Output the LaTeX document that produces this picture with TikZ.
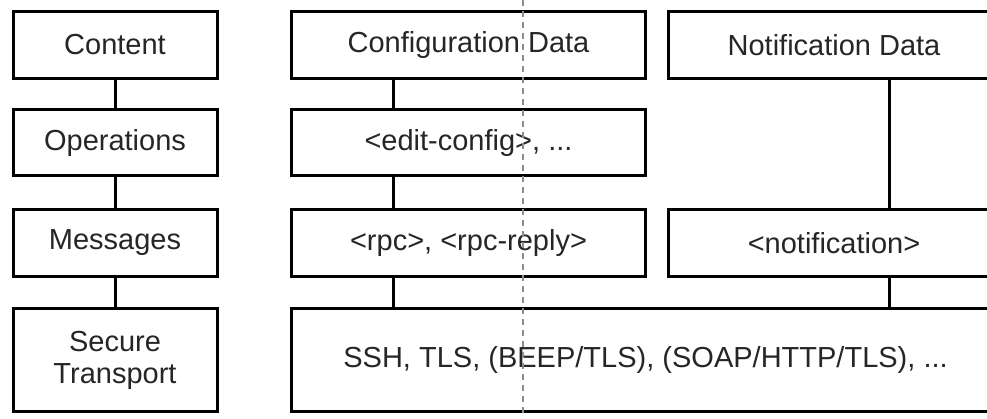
\documentclass[tikz,border=0pt]{standalone}
\usepackage{fontspec}
\setmainfont{Liberation Sans}
\begin{document}
\begin{tikzpicture}[x=1pt,y=-1pt,
  box/.style={draw=black, line width=3pt, fill=white, rectangle, inner sep=0pt,
    font=\fontsize{29}{32}\selectfont, text=black!85, align=center},
  link/.style={draw=black, line width=3pt},
  guide/.style={draw=black!45, line width=1.2pt, dash pattern=on 6pt off 5pt}]
\useasboundingbox (0,0) rectangle (987,418);
\clip (0,0) rectangle (987,418);
% left column
\node[box, minimum width=204pt, minimum height=67pt] (content) at (115,45) {Content};
\node[box, minimum width=204pt, minimum height=66pt] (ops) at (115,142.5) {Operations};
\node[box, minimum width=204pt, minimum height=67pt] (msg) at (115,243) {Messages};
\node[box, minimum width=204pt, minimum height=103pt] (sec) at (115,360) {Secure\\Transport};
% middle column
\node[box, minimum width=354pt, minimum height=67pt] (cfg) at (468.5,45) {Configuration Data};
\node[box, minimum width=354pt, minimum height=66pt] (edit) at (468.5,142.5) {<edit-config>, ...};
\node[box, minimum width=354pt, minimum height=67pt] (rpc) at (468.5,243) {<rpc>, <rpc-reply>};
% right column
\node[box, minimum width=331pt, minimum height=67pt] (ndata) at (834,45) {Notification Data};
\node[box, minimum width=331pt, minimum height=67pt] (notif) at (834,243) {<notification>};
% transport
\node[box, minimum width=708pt, minimum height=103pt] (trans) at (645.5,360) {SSH, TLS, (BEEP/TLS), (SOAP/HTTP/TLS), ...};
% connector x positions
\coordinate (lx) at (115,0);
\coordinate (mx) at (393,0);
\coordinate (rx) at (889,0);
\draw[link] (content.south -| lx) -- (ops.north -| lx);
\draw[link] (ops.south -| lx) -- (msg.north -| lx);
\draw[link] (msg.south -| lx) -- (sec.north -| lx);
\draw[link] (cfg.south -| mx) -- (edit.north -| mx);
\draw[link] (edit.south -| mx) -- (rpc.north -| mx);
\draw[link] (rpc.south -| mx) -- (trans.north -| mx);
\draw[link] (ndata.south -| rx) -- (notif.north -| rx);
\draw[link] (notif.south -| rx) -- (trans.north -| rx);
% dashed guide
\coordinate (dtop) at (523,0);
\coordinate (dbot) at (523,413);
\draw[guide] (dtop) -- (dbot);
\end{tikzpicture}
\end{document}
